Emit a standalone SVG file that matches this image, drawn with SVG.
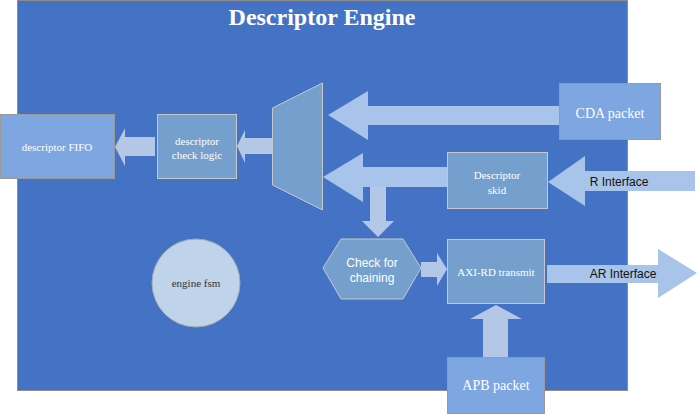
<svg xmlns="http://www.w3.org/2000/svg" width="698" height="414" viewBox="0 0 698 414">
<style>
.serif{font-family:"Liberation Serif","Times New Roman",serif;fill:#fff;text-anchor:middle}
.sans{font-family:"Liberation Sans",Arial,sans-serif;text-anchor:middle}
.pkt{fill:#7EA6E0;stroke:#9a9a9a;stroke-width:1}
.blk{fill:#75A0CD;stroke:#c8c8c8;stroke-width:1}
.arA{fill:#A9C4EB}
.arB{fill:#B4C7E7}
</style>
<rect x="0" y="0" width="698" height="414" fill="#fff"/>
<g id="engine">
<rect x="17.5" y="0.5" width="610" height="390" fill="#4472C4" stroke="#8c8c8c"/>
<text class="serif" x="322" y="25" font-size="24" font-weight="bold">Descriptor Engine</text>
</g>
<g id="connectors">
<polygon class="arB" points="115,147 125,128 125,137 155,137 155,156 125,156 125,166"/>
<polygon class="arB" points="237,146 245,130 245,138 272,138 272,154 245,154 245,163"/>
<polygon class="arA" points="328,115 368,91 368,106 559,106 559,125 368,125 368,140"/>
<polygon class="arA" points="323,177 363,153 363,167 447,167 447,187 363,187 363,202"/>
<polygon class="arB" points="370,187 386,187 386,221 394,221 378,237 362,221 370,221"/>
<polygon class="arA" points="548,182 585,156 585,171 695,171 695,191 585,191 585,206"/>
<polygon class="arB" points="421,262 437,262 437,253 447,269 437,286 437,277 421,277"/>
<polygon class="arA" points="547,265 658,265 658,249 697,273 658,298 658,283 547,283"/>
<polygon class="arB" points="483,357 483,319 470,319 496,305 522,319 508,319 508,357"/>
<text class="sans" x="619" y="186" font-size="12" style="fill:#111">R Interface</text>
<text class="sans" x="623" y="278" font-size="12" style="fill:#111">AR Interface</text>
</g>
<g id="descriptor-fifo">
<rect class="pkt" x="0.5" y="114.5" width="114" height="64"/>
<text class="serif" x="57" y="151" font-size="11">descriptor FIFO</text>
</g>
<g id="check-logic">
<rect class="blk" x="157.5" y="114.5" width="79" height="64"/>
<text class="serif" x="197" y="145" font-size="11">descriptor</text>
<text class="serif" x="197" y="159" font-size="11">check logic</text>
</g>
<g id="mux">
<polygon class="blk" points="272.5,108 322.5,83 322.5,210 272.5,185"/>
</g>
<g id="cda-packet">
<rect class="pkt" x="559.5" y="83.5" width="101" height="56"/>
<text class="serif" x="610" y="118" font-size="14">CDA packet</text>
</g>
<g id="descriptor-skid">
<rect class="blk" x="447.5" y="152.5" width="100" height="56"/>
<text class="serif" x="497" y="179" font-size="11">Descriptor</text>
<text class="serif" x="497" y="194" font-size="11">skid</text>
</g>
<g id="check-chaining">
<polygon class="blk" points="323,268 341,239 403,239 421,268 403,299 341,299"/>
<text class="sans" x="372" y="267" font-size="12" style="fill:#fff">Check for</text>
<text class="sans" x="372" y="282" font-size="12" style="fill:#fff">chaining</text>
</g>
<g id="axi-rd">
<rect class="blk" x="447.5" y="239.5" width="97" height="64"/>
<text class="serif" x="496" y="276" font-size="11">AXI-RD transmit</text>
</g>
<g id="apb-packet">
<rect class="pkt" x="447.5" y="357.5" width="97" height="56"/>
<text class="serif" x="496" y="390" font-size="14">APB packet</text>
</g>
<g id="engine-fsm">
<circle cx="196" cy="283" r="44" fill="#BFD3EB" stroke="#a8a8a8"/>
<text class="serif" x="196" y="287" font-size="11" style="fill:#333">engine fsm</text>
</g>
</svg>
